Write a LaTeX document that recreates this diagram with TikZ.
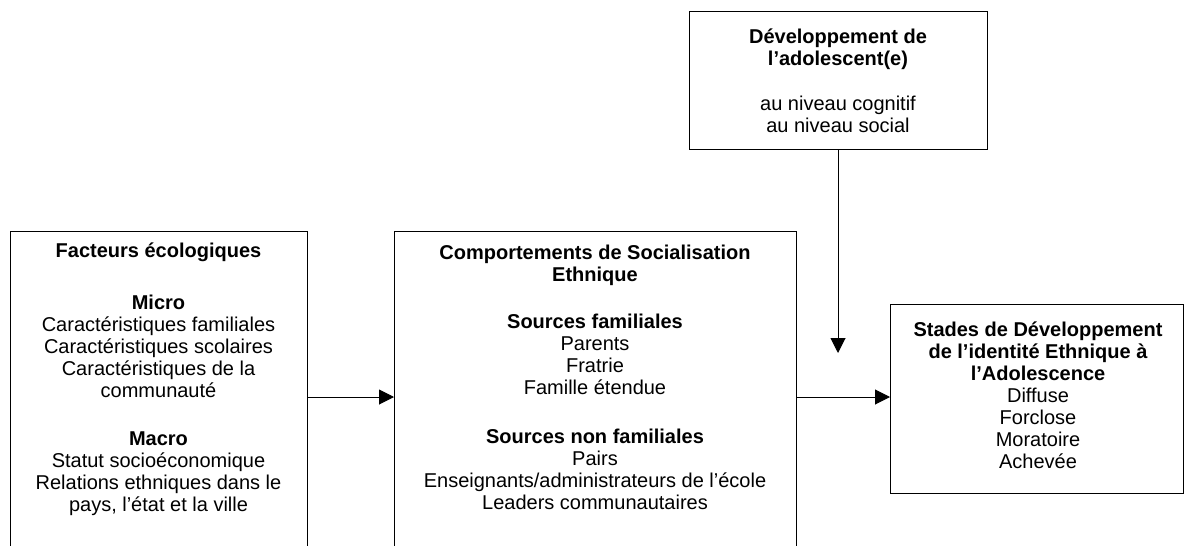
\documentclass[tikz,border=0pt]{standalone}
\usepackage{fontspec}
\setmainfont{Liberation Sans}
\usetikzlibrary{arrows.meta}
\begin{document}
\begin{tikzpicture}[x=1pt,y=-1pt,
  box/.style={draw=black, line width=1pt, anchor=north west, inner sep=0pt, outer sep=0pt},
  txt/.style={align=center, anchor=base, inner sep=0pt, font=\fontsize{20pt}{22pt}\selectfont},
  arr/.style={line width=1pt, -{Triangle[length=15pt,width=15pt]}}]
\useasboundingbox (0,0) rectangle (1184,546);
\clip (0,0) rectangle (1184,546);
\node[box, minimum width=297pt, minimum height=400pt] (eco) at (10,231) {};
\node[box, minimum width=402pt, minimum height=400pt] (soc) at (394,231) {};
\node[box, minimum width=298pt, minimum height=138pt] (dev) at (689,11) {};
\node[box, minimum width=293pt, minimum height=189pt] (stade) at (890,304) {};
\node[txt] (ecoT) at (158.5,511) {\textbf{Facteurs écologiques}\\[30pt]\textbf{Micro}\\Caractéristiques familiales\\Caractéristiques scolaires\\Caractéristiques de la\\communauté\\[26pt]\textbf{Macro}\\Statut socioéconomique\\Relations ethniques dans le\\pays, l’état et la ville};
\node[txt] (socT) at (595,509) {\textbf{Comportements de Socialisation}\\\textbf{Ethnique}\\[25pt]\textbf{Sources familiales}\\Parents\\Fratrie\\Famille étendue\\[27pt]\textbf{Sources non familiales}\\Pairs\\Enseignants/administrateurs de l’école\\Leaders communautaires};
\node[txt] (devT) at (838,132) {\textbf{Développement de}\\\textbf{l’adolescent(e)}\\[23pt]au niveau cognitif\\au niveau social};
\node[txt] (stadeT) at (1038,468) {\textbf{Stades de Développement}\\\textbf{de l’identité Ethnique à}\\\textbf{l’Adolescence}\\Diffuse\\Forclose\\Moratoire\\Achevée};
\coordinate (row) at (0,397);
\coordinate (tip) at (838,353);
\draw[arr] (eco.east |- row) -- (soc.west |- row);
\draw[arr] (soc.east |- row) -- (stade.west |- row);
\draw[arr] (dev.south) -- (dev.south |- tip);
\end{tikzpicture}
\end{document}
